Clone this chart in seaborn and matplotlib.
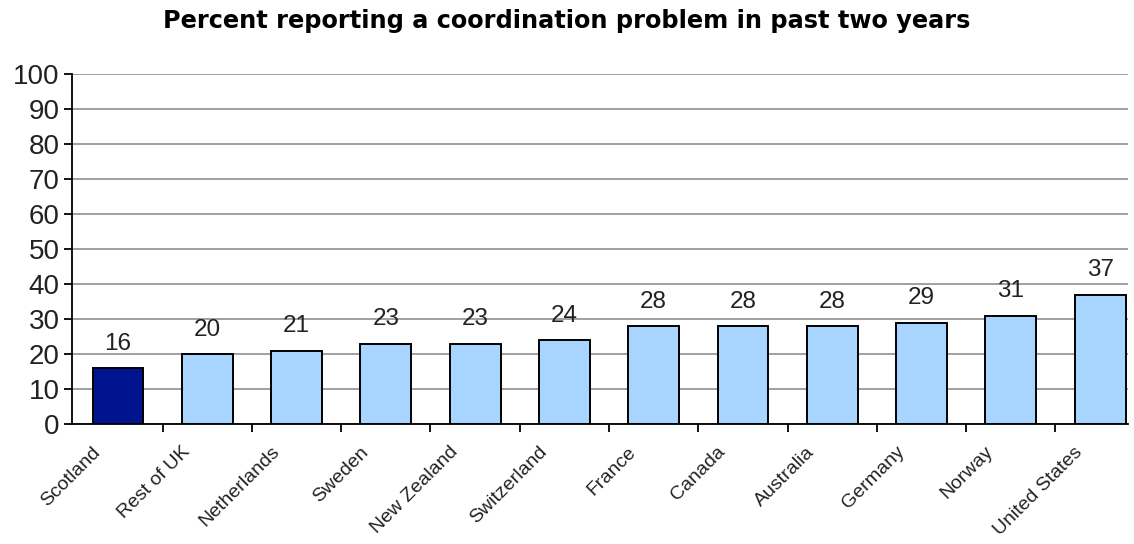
import matplotlib
matplotlib.use("Agg")
import matplotlib.pyplot as plt
import matplotlib.transforms as mtransforms
import seaborn as sns
import pandas as pd
import numpy as np

countries = ["Scotland", "Rest of UK", "Netherlands", "Sweden", "New Zealand",
             "Switzerland", "France", "Canada", "Australia", "Germany",
             "Norway", "United States"]
values = [16, 20, 21, 23, 23, 24, 28, 28, 28, 29, 31, 37]
highlight = ["Scotland"]

sns.set_theme(style="white")
plt.rcParams['font.family'] = ['Liberation Sans', 'DejaVu Sans']

df = pd.DataFrame({"country": countries, "value": values})
palette = {c: ("#00148F" if c in highlight else "#A8D5FF") for c in countries}

fig = plt.figure(figsize=(11.34, 5.44), dpi=100)
ax = fig.add_axes([0.0635, 0.2206, 0.931, 0.643])

sns.barplot(data=df, x="country", y="value", hue="country", palette=palette,
            order=countries, legend=False, width=0.57, edgecolor="black",
            linewidth=1.4, saturation=1, ax=ax, zorder=3)

for i, v in enumerate(values):
    ax.text(i, v + 7, f"{v}", ha="center", va="center", fontsize=17.5, color="#222222")

ax.set_yticks(range(0, 101, 10))
ax.yaxis.grid(True, color="#999999", linewidth=1.3, zorder=0)
ax.set_axisbelow(True)
for s in ["top", "right"]:
    ax.spines[s].set_visible(False)
ax.spines["left"].set_color("black")
ax.spines["bottom"].set_color("black")
ax.spines["left"].set_linewidth(1.3)
ax.spines["bottom"].set_linewidth(1.3)

ax.tick_params(axis="y", which="major", left=True, length=6, width=1.3,
               labelsize=20, colors="black", labelcolor="#222222", pad=3)
ax.set_xticks(np.arange(len(countries)))
ax.set_xticklabels(countries, rotation=45, ha="right", rotation_mode="anchor",
                   fontsize=14, color="#222222")
ax.tick_params(axis="x", which="major", bottom=False, length=0, pad=14)
ax.set_xticks(np.arange(len(countries) - 1) + 0.5, minor=True)
ax.tick_params(axis="x", which="minor", bottom=True, length=6, width=1.3, colors="black")
shift = mtransforms.ScaledTranslation(-0.26, 0, fig.dpi_scale_trans)
for lbl in ax.get_xticklabels():
    lbl.set_transform(lbl.get_transform() + shift)
ax.set_xlabel("")
ax.set_ylabel("")
ax.set_ylim(0, 100)
ax.set_xlim(-0.515, len(countries) - 1 + 0.31)

fig.text(0.5, 0.962, "Percent reporting a coordination problem in past two years",
         ha="center", va="center", fontsize=17.3, fontweight="bold",
         family=["DejaVu Sans"], color="black")

fig.savefig("out.png", dpi=100)
